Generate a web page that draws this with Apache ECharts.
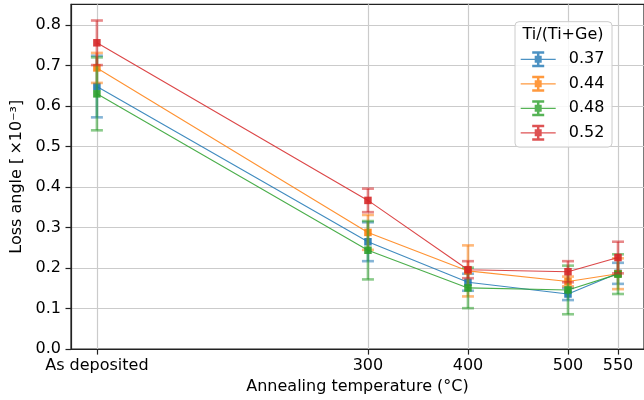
<!DOCTYPE html>
<html><head><meta charset="utf-8">
<script src="https://cdn.jsdelivr.net/npm/echarts@6/dist/echarts.min.js"></script>
<style>html,body{margin:0;padding:0;background:#fff}#c{width:644px;height:400px}</style>
</head><body><div id="c"></div>
<script>
// x positions (°C); "As deposited" is placed at ~29 on the temperature scale
const temperatures = [29, 300, 400, 500, 550];
const tickLabels = ['As deposited', '300', '400', '500', '550'];
const compositions = ['0.37', '0.44', '0.48', '0.52'];
const colors = ['#1f77b4', '#ff7f0e', '#2ca02c', '#d62728'];

const loss037 = [0.648, 0.265, 0.165, 0.136, 0.187];
const err037  = [0.076, 0.048, 0.021, 0.015, 0.026];
const loss044 = [0.694, 0.288, 0.193, 0.167, 0.186];
const err044  = [0.037, 0.043, 0.063, 0.012, 0.038];
const loss048 = [0.630, 0.244, 0.151, 0.146, 0.185];
const err048  = [0.090, 0.072, 0.050, 0.060, 0.049];
const loss052 = [0.756, 0.367, 0.196, 0.191, 0.226];
const err052  = [0.055, 0.029, 0.021, 0.026, 0.039];

const yTicks = [0, 0.1, 0.2, 0.3, 0.4, 0.5, 0.6, 0.7, 0.8];

const lossSets = [loss037, loss044, loss048, loss052];
const errSets = [err037, err044, err048, err052];

const FONT = 'DejaVu Sans';
const legendIcon = 'path://M0,7.35h35v1.3h-35z M14,4.5h7v7h-7z M16.25,0h2.5v16h-2.5z M11.5,0h12v2.5h-12z M11.5,13.5h12v2.5h-12z';

const series = [];
compositions.forEach((name, i) => {
  const pts = temperatures.map((t, k) => [t, lossSets[i][k], errSets[i][k]]);
  series.push({
    name: name + ' err',
    type: 'custom',
    z: 2 + i * 2,
    data: pts,
    encode: { x: 0, y: 1 },
    silent: true,
    renderItem: function (params, api) {
      const x = api.value(0), y = api.value(1), e = api.value(2);
      const top = api.coord([x, y + e]);
      const bot = api.coord([x, y - e]);
      const half = 6;
      const style = { stroke: colors[i], lineWidth: 2.6, opacity: 0.55 };
      return {
        type: 'group',
        children: [
          { type: 'line', shape: { x1: top[0], y1: top[1], x2: bot[0], y2: bot[1] }, style: style },
          { type: 'line', shape: { x1: top[0] - half, y1: top[1], x2: top[0] + half, y2: top[1] }, style: style },
          { type: 'line', shape: { x1: bot[0] - half, y1: bot[1], x2: bot[0] + half, y2: bot[1] }, style: style }
        ]
      };
    }
  });
  series.push({
    name: name,
    type: 'line',
    z: 3 + i * 2,
    data: pts.map(p => [p[0], p[1]]),
    symbol: 'rect',
    symbolSize: 7.5,
    showSymbol: true,
    lineStyle: { color: colors[i], width: 1.1, opacity: 0.85 },
    itemStyle: { color: colors[i], opacity: 0.9 },
    emphasis: { disabled: true },
    animation: false
  });
});

const chart = echarts.init(document.getElementById('c'), null, { renderer: 'canvas' });
chart.setOption({
  animation: false,
  backgroundColor: '#fff',
  textStyle: { fontFamily: FONT },
  grid: { left: 71, top: 4.3, right: -4.5, bottom: 50.7, show: true, borderColor: '#222', borderWidth: 1.2, backgroundColor: 'transparent' },
  xAxis: {
    type: 'value', min: 3.1, max: 576,
    name: 'Annealing temperature (°C)', nameLocation: 'middle', nameGap: 23,
    nameTextStyle: { fontFamily: FONT, fontSize: 16, color: '#000' },
    axisLine: { show: true, onZero: false, lineStyle: { color: '#222', width: 1.2 } },
    axisTick: { show: true, length: 5.5, customValues: temperatures, lineStyle: { color: '#222', width: 1.2 } },
    axisLabel: {
      customValues: temperatures, margin: 9, fontFamily: FONT, fontSize: 16, color: '#000',
      formatter: v => { const k = temperatures.indexOf(v); return k >= 0 ? tickLabels[k] : ''; }
    },
    splitLine: { show: true, lineStyle: { color: '#cbcbcb', width: 1.2 } }
  },
  yAxis: {
    type: 'value', min: 0, max: 0.851, interval: 0.1,
    name: 'Loss angle [\u2009×10⁻³]', nameLocation: 'middle', nameGap: 39, nameRotate: 90,
    nameTextStyle: { fontFamily: FONT, fontSize: 16, color: '#000' },
    axisLine: { show: true, lineStyle: { color: '#222', width: 1.2 } },
    axisTick: { show: true, length: 5.5, customValues: yTicks, lineStyle: { color: '#222', width: 1.2 } },
    axisLabel: { customValues: yTicks, margin: 10, fontFamily: FONT, fontSize: 16, color: '#000', formatter: v => v.toFixed(1) },
    splitLine: { show: true, lineStyle: { color: '#cbcbcb', width: 1.2 } }
  },
  legend: {
    orient: 'vertical', left: 515, top: 21.7,
    padding: [29.6, 7.7, 6.3, 5.7],
    backgroundColor: 'rgba(255,255,255,0.85)', borderColor: '#cccccc', borderWidth: 1, borderRadius: 4,
    itemWidth: 35, itemHeight: 16, itemGap: 8.5,
    data: compositions.map((n, i) => ({ name: n, icon: legendIcon, itemStyle: { color: colors[i], opacity: 0.8 } })),
    textStyle: { fontFamily: FONT, fontSize: 16, color: '#000', lineHeight: 16, padding: [0, 0, 0, 8] },
    selectedMode: false
  },
  graphic: [{
    type: 'text', z: 100,
    x: 563, y: 35,
    style: { text: 'Ti/(Ti+Ge)', font: '16px "DejaVu Sans"', fill: '#000', align: 'center', verticalAlign: 'middle' }
  }],
  series: series
});
</script>
</body></html>
